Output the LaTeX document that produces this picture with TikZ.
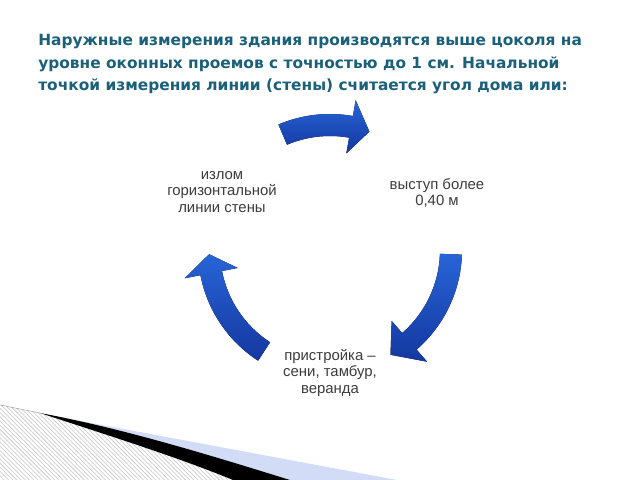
\documentclass[tikz,border=0pt]{standalone}
\usepackage{fontspec}
\setmainfont{Liberation Sans}
\newfontfamily\headfont{DejaVu Sans}
\usetikzlibrary{patterns}

\definecolor{headteal}{RGB}{26,96,122}
\definecolor{labelgray}{RGB}{60,60,60}
\definecolor{arrowtop}{RGB}{40,100,215}
\definecolor{arrowbot}{RGB}{20,55,160}
\definecolor{paleblue}{RGB}{210,220,246}

\tikzset{
  cyclelabel/.style={align=center, text=labelgray, inner sep=0pt,
    font=\fontsize{10.6}{11.7}\selectfont},
  cyclearrow/.style={top color=arrowtop, bottom color=arrowbot, draw=none},
}

% curved block arrow round a centre: centre, start, head base, tip (angles, y down)
\newcommand{\bentarrow}[4]{%
  \fill[cyclearrow, shift={(#1)}] (#2:132) arc[start angle=#2, end angle=#3, radius=132]
    -- (#3:148) -- (#4:121) -- (#3:94) -- (#3:110)
    arc[start angle=#3, end angle=#2, radius=110] -- cycle;
}

\begin{document}
\begin{tikzpicture}[x=0.025cm, y=-0.025cm]
  \fill[white] (0,0) rectangle (640,480);
  \path[use as bounding box] (0,0) rectangle (640,480);

  % corner decoration
  \fill[pattern=north west lines, pattern color=gray!45] (0,405) -- (40,413)
    .. controls (110,436) and (180,458) .. (233,480) -- (0,480) -- cycle;
  \fill[paleblue] (70,419) -- (397,480) -- (290,480)
    .. controls (200,452) and (120,428) .. (40,413) -- cycle;
  \fill[black] (40,413) .. controls (120,428) and (200,452) .. (290,480)
    -- (233,480) .. controls (180,458) and (110,436) .. (40,413) -- cycle;
  \draw[gray!70, line width=0.4pt] (0,405) -- (40,413);

  \node[anchor=base west, text=headteal, align=left, inner sep=0pt,
    font=\headfont\bfseries\fontsize{10.95}{16.3}\selectfont] (heading) at (38,91)
    {Наружные измерения здания производятся выше цоколя на\\
     уровне оконных проемов с точностью до 1 см. Начальной\\
     точкой измерения линии (стены) считается угол дома или:};

  \coordinate (hub) at (330,250);
  \coordinate (tophub) at (330,246);

  \bentarrow{tophub}{-113}{-80}{-71}
  \bentarrow{hub}{2}{49}{60}
  \bentarrow{hub}{123}{169}{178}

  \node[cyclelabel] (bend) at (222,192) {излом\\горизонтальной\\линии стены};
  \node[cyclelabel] (ledge) at (437,193) {выступ более\\0,40 м};
  \node[cyclelabel] (annex) at (330,373) {пристройка –\\сени, тамбур,\\веранда};
\end{tikzpicture}
\end{document}
